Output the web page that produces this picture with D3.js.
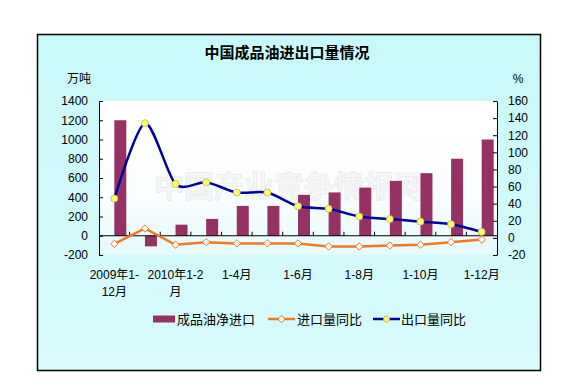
<!DOCTYPE html>
<html>
<head>
<meta charset="utf-8">
<script src="https://cdn.jsdelivr.net/npm/d3@7"></script>
<style>
  body { margin: 0; background: #ffffff; }
  text { font-family: "Liberation Sans", Arial, "Noto Sans CJK SC", sans-serif; }
</style>
</head>
<body>
<div id="chart"></div>
<script>
// chart data
var categories = ["2009年1-12月", "2010年1月", "2010年1-2月", "1-3月", "1-4月", "1-5月", "1-6月",
  "1-7月", "1-8月", "1-9月", "1-10月", "1-11月", "1-12月"];
var netImport = [1200, -110, 115, 175, 310, 310, 425, 450, 500, 570, 650, 800, 1000];
var importYoY = [-7, 11, -8, -5, -6.5, -6.5, -6.5, -10, -10, -9, -8, -5, -2];
var exportYoY = [46, 134, 63, 65, 53, 53, 37, 34, 25, 22, 19, 16, 7];
// only every other category gets a label, wrapped like the original
var tickLabels = [["2009年1-", "12月"], ["2010年1-2", "月"], ["1-4月"], ["1-6月"], ["1-8月"], ["1-10月"], ["1-12月"]];
var leftTicks = [-200, 0, 200, 400, 600, 800, 1000, 1200, 1400];
var rightTicks = [-20, 0, 20, 40, 60, 80, 100, 120, 140, 160];
var seriesNames = ["成品油净进口", "进口量同比", "出口量同比"];

var svgWidth = 573;
var svgHeight = 380;

var margin = { top: 101, right: 76, bottom: 125, left: 99 };
var width = svgWidth - margin.left - margin.right;
var height = svgHeight - margin.top - margin.bottom;

var barColor = "#953163";
var orange = "#f07822";
var blue = "#0000a0";

var svg = d3.select("#chart").append("svg")
  .attr("width", svgWidth)
  .attr("height", svgHeight);

var defs = svg.append("defs");
var bgGrad = defs.append("linearGradient").attr("id", "bg").attr("x1", 0).attr("y1", 0).attr("x2", 0).attr("y2", 1);
bgGrad.append("stop").attr("offset", "0%").attr("stop-color", "#c8f8f9");
bgGrad.append("stop").attr("offset", "100%").attr("stop-color", "#d8fbfc");
var plotGrad = defs.append("linearGradient").attr("id", "plotbg").attr("x1", 0).attr("y1", 0).attr("x2", 0).attr("y2", 1);
plotGrad.append("stop").attr("offset", "0%").attr("stop-color", "#ffffff");
plotGrad.append("stop").attr("offset", "60%").attr("stop-color", "#fbfefe");
plotGrad.append("stop").attr("offset", "100%").attr("stop-color", "#e4fafb");

// outer chart box
svg.append("rect")
  .attr("x", 37.5).attr("y", 34.5)
  .attr("width", 503).attr("height", 336)
  .attr("fill", "url(#bg)")
  .attr("stroke", "#000").attr("stroke-width", 1.5);

// title
svg.append("text")
  .attr("x", 287).attr("y", 58)
  .attr("text-anchor", "middle")
  .style("font-size", "15px").style("font-weight", "bold")
  .text("中国成品油进出口量情况");

// units
svg.append("text").attr("x", 79).attr("y", 83)
  .attr("text-anchor", "middle").style("font-size", "12px").text("万吨");
svg.append("text").attr("x", 518).attr("y", 83)
  .attr("text-anchor", "middle").style("font-size", "12px").text("%");

var chartGroup = svg.append("g")
  .attr("transform", `translate(${margin.left}, ${margin.top})`);

chartGroup.append("rect")
  .attr("width", width).attr("height", height)
  .attr("fill", "url(#plotbg)");

// scales
var x = d3.scaleBand().domain(categories).range([0, width]).paddingInner(0).paddingOuter(0);
// bars sit in the right half of each category, as in the original
var xSub = d3.scaleBand().domain(["gap", "net"])
  .range([x.bandwidth() / 2 - 12, x.bandwidth() / 2 + 12]);
var yLeft = d3.scaleLinear().domain([-200, 1400]).range([height, 0]);
var yRight = d3.scaleLinear().domain([-20, 160]).range([height, 0]);

// watermark
chartGroup.append("text")
  .attr("x", 190).attr("y", 96)
  .attr("text-anchor", "middle")
  .style("font-family", "'Noto Sans CJK SC', sans-serif")
  .style("font-size", "30px").style("font-weight", "bold")
  .attr("fill", "#f2f2f2").attr("stroke", "#dcdcdc").attr("stroke-width", 0.7)
  .attr("opacity", 0.6)
  .text("中国产业竞争情报网");

// bars
chartGroup.selectAll("rect.bar")
  .data(netImport)
  .enter()
  .append("rect")
  .attr("class", "bar")
  .attr("x", (d, i) => x(categories[i]) + xSub("net"))
  .attr("width", xSub.bandwidth())
  .attr("y", (d) => yLeft(Math.max(0, d)))
  .attr("height", (d) => Math.abs(yLeft(d) - yLeft(0)))
  .attr("fill", barColor);

// left axis
var plain = (d) => String(d);
var leftAxis = d3.axisLeft(yLeft).tickValues(leftTicks).tickFormat(plain)
  .tickSize(-4).tickSizeOuter(0).tickPadding(11);
var gLeft = chartGroup.append("g").call(leftAxis);
// right axis
var rightAxis = d3.axisRight(yRight).tickValues(rightTicks).tickFormat(plain)
  .tickSize(-4).tickSizeOuter(0).tickPadding(11);
var gRight = chartGroup.append("g").attr("transform", `translate(${width}, 0)`).call(rightAxis);

[gLeft, gRight].forEach(function (g) {
  g.select(".domain").attr("stroke", "#000");
  g.selectAll(".tick line").attr("stroke", "#000");
  g.selectAll(".tick text")
    .style("font-family", "'Liberation Sans', Arial, sans-serif")
    .style("font-size", "12px").attr("fill", "#000");
});

// category axis along zero
var zeroY = yLeft(0);
chartGroup.append("line")
  .attr("x1", 0).attr("x2", width)
  .attr("y1", zeroY).attr("y2", zeroY)
  .attr("stroke", "#000");
chartGroup.selectAll("line.xtick")
  .data(categories.slice(1))
  .enter()
  .append("line")
  .attr("class", "xtick")
  .attr("x1", (d) => x(d)).attr("x2", (d) => x(d))
  .attr("y1", zeroY).attr("y2", zeroY - 4)
  .attr("stroke", "#000");

// category labels, every other one
var labelled = categories.filter((d, i) => i % 2 === 0);
var xLabels = chartGroup.selectAll("text.xlabel")
  .data(labelled)
  .enter()
  .append("text")
  .attr("class", "xlabel")
  .attr("text-anchor", "middle")
  .style("font-size", "12px");
xLabels.each(function (d, i) {
  var t = d3.select(this);
  tickLabels[i].forEach(function (line, j) {
    t.append("tspan")
      .attr("x", x(d) + x.bandwidth() / 2)
      .attr("y", height + 24 + j * 17)
      .text(line);
  });
});

// lines
var cx = (d, i) => x(categories[i]) + x.bandwidth() / 2;

var importLine = d3.line().x(cx).y((d) => yRight(d));
chartGroup.append("path")
  .datum(importYoY)
  .attr("d", importLine)
  .attr("fill", "none")
  .attr("stroke", orange)
  .attr("stroke-width", 2.5);

var exportLine = d3.line().x(cx).y((d) => yRight(d)).curve(d3.curveCardinal.tension(0.2));
chartGroup.append("path")
  .datum(exportYoY)
  .attr("d", exportLine)
  .attr("fill", "none")
  .attr("stroke", blue)
  .attr("stroke-width", 2.5);

var diamond = d3.symbol().type(d3.symbolDiamond2).size(34);
chartGroup.selectAll("path.imp")
  .data(importYoY)
  .enter()
  .append("path")
  .attr("class", "imp")
  .attr("d", diamond)
  .attr("transform", (d, i) => `translate(${cx(d, i)}, ${yRight(d)})`)
  .attr("fill", "#ffffff")
  .attr("stroke", orange)
  .attr("stroke-width", 1);

chartGroup.selectAll("circle.exp")
  .data(exportYoY)
  .enter()
  .append("circle")
  .attr("class", "exp")
  .attr("cx", cx)
  .attr("cy", (d) => yRight(d))
  .attr("r", 3.5)
  .attr("fill", "#ffff66")
  .attr("stroke", "#b8b860")
  .attr("stroke-width", 0.8);

// legend
var legend = svg.append("g").attr("transform", "translate(0, 319)");
legend.append("rect")
  .attr("x", 153).attr("y", -3.5)
  .attr("width", 22).attr("height", 7)
  .attr("fill", barColor);
legend.append("text").attr("x", 177).attr("y", 0)
  .attr("dominant-baseline", "central").style("font-size", "13px").text(seriesNames[0]);

legend.append("line").attr("x1", 268).attr("x2", 295).attr("y1", 0).attr("y2", 0)
  .attr("stroke", orange).attr("stroke-width", 2.5);
legend.append("path").attr("d", diamond)
  .attr("transform", "translate(281.5, 0)")
  .attr("fill", "#ffffff").attr("stroke", orange).attr("stroke-width", 1);
legend.append("text").attr("x", 297).attr("y", 0)
  .attr("dominant-baseline", "central").style("font-size", "13px").text(seriesNames[1]);

legend.append("line").attr("x1", 373).attr("x2", 400).attr("y1", 0).attr("y2", 0)
  .attr("stroke", blue).attr("stroke-width", 2.5);
legend.append("circle").attr("cx", 386.5).attr("cy", 0).attr("r", 3)
  .attr("fill", "#ffff66").attr("stroke", "#b8b860").attr("stroke-width", 0.8);
legend.append("text").attr("x", 401).attr("y", 0)
  .attr("dominant-baseline", "central").style("font-size", "13px").text(seriesNames[2]);
</script>
</body>
</html>
